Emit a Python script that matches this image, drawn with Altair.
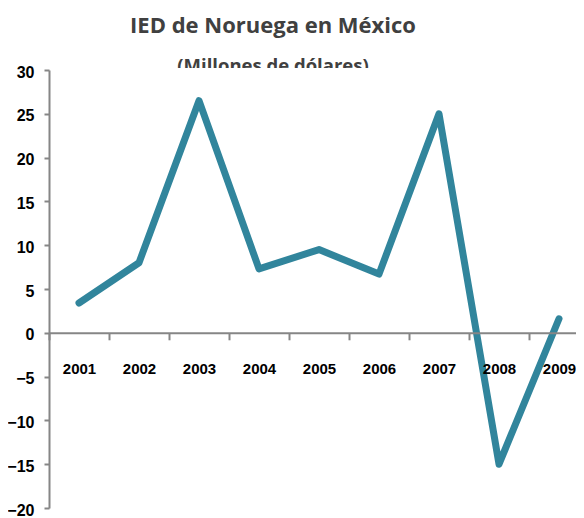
import altair as alt
import pandas as pd

# ---- data ----
years = ["2001", "2002", "2003", "2004", "2005", "2006", "2007", "2008", "2009"]
values = [3.4, 8.0, 26.5, 7.3, 9.5, 6.7, 25.0, -15.0, 1.6]
y_ticks = [-20, -15, -10, -5, 0, 5, 10, 15, 20, 25, 30]
title_text = "IED de Noruega en México"
subtitle_text = "(Millones de dólares)"

# ---- layout ----
W, H = 527, 438
Y_MIN, Y_MAX = -20, 30
x_axis_offset = -H * (0 - Y_MIN) / (Y_MAX - Y_MIN)

AX_FONT = "Liberation Sans, Arial, sans-serif"
TITLE_FONT = "Open Sans, Lato, sans-serif"
AXIS_GRAY = "#868686"

df = pd.DataFrame({"year": years, "value": values})

line = alt.Chart(df).mark_line(
    color="#31859C", strokeWidth=7, strokeCap="round", strokeJoin="round"
).encode(
    x=alt.X(
        "year:N",
        sort=years,
        bandPosition=0.5,
        scale=alt.Scale(type="band", domain=years, range=[0, 540],
                        paddingInner=0, paddingOuter=0),
        axis=alt.Axis(
            title=None, orient="bottom", offset=x_axis_offset,
            tickBand="extent", domainColor=AXIS_GRAY, domainWidth=2,
            tickColor=AXIS_GRAY, tickWidth=2, tickSize=7,
            labelFont=AX_FONT, labelFontSize=15, labelFontWeight="bold",
            labelColor="#000000", labelPadding=22, labelAngle=0, zindex=1,
        ),
    ),
    y=alt.Y(
        "value:Q",
        scale=alt.Scale(domain=[Y_MIN, Y_MAX], nice=False, zero=False),
        axis=alt.Axis(
            title=None, values=y_ticks, grid=False,
            domainColor=AXIS_GRAY, domainWidth=2,
            tickColor=AXIS_GRAY, tickWidth=2, tickSize=5,
            labelFont=AX_FONT, labelFontSize=16, labelFontWeight="bold",
            labelColor="#000000", labelPadding=10, labelOffset=2, zindex=1,
        ),
    ),
)

title = alt.Chart(pd.DataFrame({"t": [title_text]})).mark_text(
    font=TITLE_FONT, fontSize=22, fontWeight="bold", color="#404040",
    align="center", baseline="alphabetic",
).encode(text="t:N", x=alt.value(224), y=alt.value(-37))

subtitle = alt.Chart(pd.DataFrame({"t": [subtitle_text]})).mark_text(
    font=TITLE_FONT, fontSize=18.5, fontWeight="bold", color="#404040",
    align="center", baseline="alphabetic",
).encode(text="t:N", x=alt.value(224), y=alt.value(2))

mask = alt.Chart(pd.DataFrame({"a": [0]})).mark_rect(color="white").encode(
    x=alt.value(100), x2=alt.value(350), y=alt.value(-2), y2=alt.value(14)
)

chart = alt.layer(title, subtitle, mask, line).properties(
    width=W, height=H,
    autosize=alt.AutoSizeParams(type="none"),
    padding={"left": 41, "top": 62, "right": 0, "bottom": 10},
    background="white",
).configure_view(stroke=None)

chart.save("out.html", embed_options={"renderer": "svg", "actions": False})
